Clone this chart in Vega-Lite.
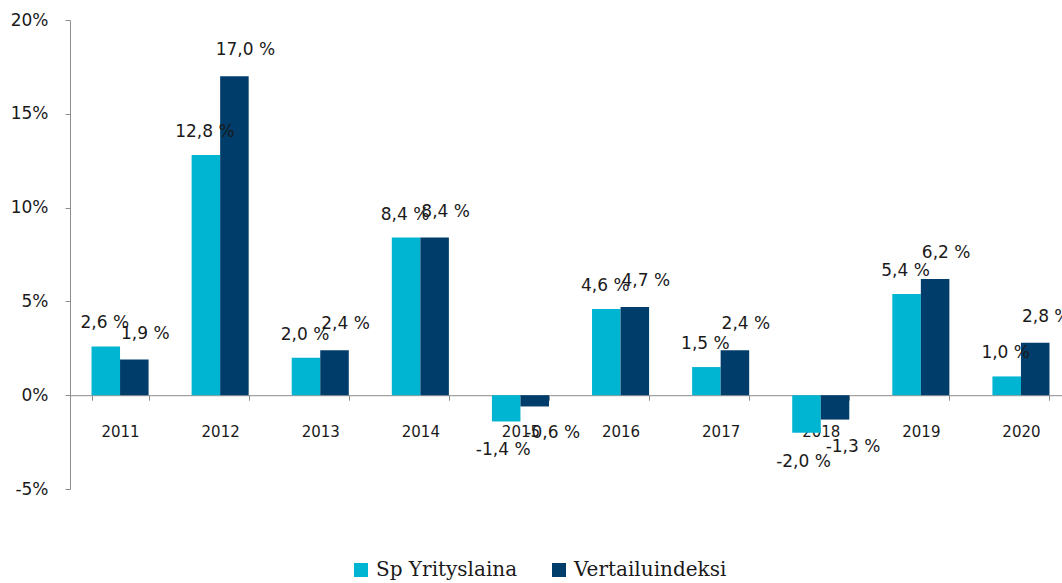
{
  "$schema": "https://vega.github.io/schema/vega-lite/v6.json",
  "width": 1001,
  "height": 469,
  "autosize": "none",
  "padding": {"left": 70, "top": 20, "right": 0, "bottom": 94},
  "background": "white",
  "data": {"values": [
    {"year": "2011", "series": "Sp Yrityslaina", "value": 0.026},
    {"year": "2011", "series": "Vertailuindeksi", "value": 0.019},
    {"year": "2012", "series": "Sp Yrityslaina", "value": 0.128},
    {"year": "2012", "series": "Vertailuindeksi", "value": 0.170},
    {"year": "2013", "series": "Sp Yrityslaina", "value": 0.020},
    {"year": "2013", "series": "Vertailuindeksi", "value": 0.024},
    {"year": "2014", "series": "Sp Yrityslaina", "value": 0.084},
    {"year": "2014", "series": "Vertailuindeksi", "value": 0.084},
    {"year": "2015", "series": "Sp Yrityslaina", "value": -0.014},
    {"year": "2015", "series": "Vertailuindeksi", "value": -0.006},
    {"year": "2016", "series": "Sp Yrityslaina", "value": 0.046},
    {"year": "2016", "series": "Vertailuindeksi", "value": 0.047},
    {"year": "2017", "series": "Sp Yrityslaina", "value": 0.015},
    {"year": "2017", "series": "Vertailuindeksi", "value": 0.024},
    {"year": "2018", "series": "Sp Yrityslaina", "value": -0.020},
    {"year": "2018", "series": "Vertailuindeksi", "value": -0.013},
    {"year": "2019", "series": "Sp Yrityslaina", "value": 0.054},
    {"year": "2019", "series": "Vertailuindeksi", "value": 0.062},
    {"year": "2020", "series": "Sp Yrityslaina", "value": 0.010},
    {"year": "2020", "series": "Vertailuindeksi", "value": 0.028}
  ]},
  "encoding": {
    "x": {
      "field": "year", "type": "nominal", "sort": null,
      "scale": {"paddingInner": 0.43, "paddingOuter": 0.215},
      "axis": {
        "title": null, "labelAngle": 0, "offset": -93.8, "tickBand": "extent",
        "domainColor": "#8c8c8c", "tickColor": "#8c8c8c", "tickSize": 5,
        "labelFont": "DejaVu Sans", "labelFontSize": 15, "labelColor": "#1a1a1a",
        "labelPadding": 24, "grid": false
      }
    },
    "xOffset": {"field": "series", "type": "nominal", "scale": {"paddingInner": 0, "paddingOuter": 0}},
    "y": {
      "field": "value", "type": "quantitative",
      "scale": {"domain": [-0.05, 0.2], "nice": false, "zero": false},
      "axis": {
        "title": null, "values": [-0.05, 0, 0.05, 0.1, 0.15, 0.2], "format": ".0%",
        "labelExpr": "replace(datum.label, ' %', '%')",
        "grid": false, "domainColor": "#8c8c8c", "tickColor": "#8c8c8c", "tickSize": 5,
        "labelFont": "DejaVu Sans", "labelFontSize": 17, "labelColor": "#1a1a1a", "labelPadding": 17
      }
    }
  },
  "layer": [
    {
      "mark": {"type": "bar"},
      "encoding": {
        "color": {
          "field": "series", "type": "nominal",
          "scale": {"domain": ["Sp Yrityslaina", "Vertailuindeksi"], "range": ["#00B5D1", "#003D6B"]},
          "legend": {
            "title": null, "orient": "none", "direction": "horizontal",
            "legendX": 281, "legendY": 540,
            "symbolType": "square", "symbolSize": 196, "symbolStrokeWidth": 0,
            "labelFont": "DejaVu Serif", "labelFontSize": 20, "labelColor": "#1a1a1a",
            "labelOffset": 5, "columnPadding": 31, "padding": 0, "labelLimit": 400
          }
        }
      }
    },
    {
      "transform": [{"filter": "datum.series == 'Sp Yrityslaina' && datum.value >= 0"}],
      "mark": {"type": "text", "baseline": "middle", "dy": -23, "dx": -1, "font": "DejaVu Sans", "fontSize": 17, "color": "#1a1a1a"},
      "encoding": {"text": {"field": "value", "type": "quantitative", "format": ".1%"}}
    },
    {
      "transform": [{"filter": "datum.series == 'Sp Yrityslaina' && datum.value < 0"}],
      "mark": {"type": "text", "baseline": "middle", "dy": 29, "dx": -3, "font": "DejaVu Sans", "fontSize": 17, "color": "#1a1a1a"},
      "encoding": {"text": {"field": "value", "type": "quantitative", "format": ".1%"}}
    },
    {
      "transform": [{"filter": "datum.series == 'Vertailuindeksi' && datum.value >= 0"}],
      "mark": {"type": "text", "baseline": "middle", "dy": -26, "dx": 11, "font": "DejaVu Sans", "fontSize": 17, "color": "#1a1a1a"},
      "encoding": {"text": {"field": "value", "type": "quantitative", "format": ".1%"}}
    },
    {
      "transform": [{"filter": "datum.series == 'Vertailuindeksi' && datum.value < 0"}],
      "mark": {"type": "text", "baseline": "middle", "dy": 27, "dx": 18, "font": "DejaVu Sans", "fontSize": 17, "color": "#1a1a1a"},
      "encoding": {"text": {"field": "value", "type": "quantitative", "format": ".1%"}}
    }
  ],
  "config": {
    "view": {"stroke": null},
    "locale": {"number": {"decimal": ",", "thousands": " ", "grouping": [3], "currency": ["", " €"], "percent": " %", "minus": "-"}}
  }
}
